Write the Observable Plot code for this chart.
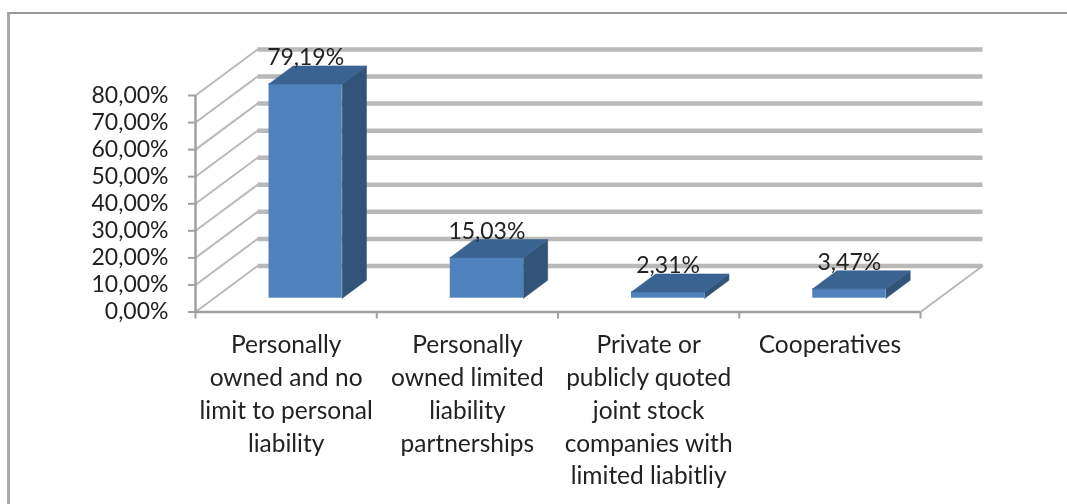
<!DOCTYPE html>
<html>
<head>
<meta charset="utf-8">
<script src="https://cdn.jsdelivr.net/npm/d3@7"></script>
<script src="https://cdn.jsdelivr.net/npm/@observablehq/plot@0.6"></script>
<style>
html, body { margin: 0; padding: 0; background: #fff; overflow: hidden; }
#frame { position: absolute; left: 7px; top: 12px; width: 1060px; height: 492px; box-sizing: border-box; border-left: 3px solid #a9a9a9; border-top: 2px solid #999; }
#chart { position: absolute; left: 0; top: 0; }
#chart svg { display: block; filter: blur(0.65px); }
</style>
</head>
<body>
<div id="frame"></div>
<div id="chart"></div>
<script>
const categories = [
  "Personally\nowned and no\nlimit to personal\nliability",
  "Personally\nowned limited\nliability\npartnerships",
  "Private or\npublicly quoted\njoint stock\ncompanies with\nlimited liabitliy",
  "Cooperatives"
];
const values = [79.19, 15.03, 2.31, 3.47];
const valueLabels = ["79,19%", "15,03%", "2,31%", "3,47%"];
const yTicks = [0, 10, 20, 30, 40, 50, 60, 70, 80];
const yTickLabels = ["0,00%", "10,00%", "20,00%", "30,00%", "40,00%", "50,00%", "60,00%", "70,00%", "80,00%"];
const categoryEdges = [0, 1, 2, 3, 4];

// oblique projection of the 3D box, expressed in data units
const depthX = 0.342;   // categories per unit of depth
const depthY = 17;      // percentage points per unit of depth
const barStart = 0.303, barEnd = 0.707;
const depthStart = 0.3, depthEnd = 0.69;
const px = (c, d) => c + d * depthX;
const py = (v, d) => v + d * depthY;

const slants = yTicks.flatMap(v => [
  {v, x: px(0, 0), y: py(v, 0)},
  {v, x: px(0, 1), y: py(v, 1)}
]);
const floorEdge = [
  {x: px(4, 0), y: py(0, 0)},
  {x: px(4, 1), y: py(0, 1)}
];
const backLines = yTicks.map(v => ({x1: px(0, 1), x2: px(4, 1), y: py(v, 1)}));

const fronts = values.map((v, i) => ({
  x1: px(i + barStart, depthStart), x2: px(i + barEnd, depthStart),
  y1: py(0, depthStart), y2: py(v, depthStart)
}));
const poly = (i, pts) => pts.map(([c, v, d]) => ({i, x: px(i + c, d), y: py(v, d)}));
const sides = values.flatMap((v, i) => poly(i, [
  [barEnd, 0, depthStart], [barEnd, v, depthStart], [barEnd, v, depthEnd], [barEnd, 0, depthEnd], [barEnd, 0, depthStart]
]));
const tops = values.flatMap((v, i) => poly(i, [
  [barStart, v, depthStart], [barEnd, v, depthStart], [barEnd, v, depthEnd], [barStart, v, depthEnd], [barStart, v, depthStart]
]));
const barLabels = values.map((v, i) => ({
  x: px(i + (barStart + barEnd) / 2, depthStart), y: py(v, depthEnd), label: valueLabels[i]
}));
const catLabels = categories.map((label, i) => ({x: i + 0.5, y: 0, label}));

const gridColor = "#b9b9b9";
const axisColor = "#a0a0a0";
const textColor = "#222222";
const fontSize = 23;
const categoryFontSize = 24.5;

const chart = Plot.plot({
  width: 1067,
  height: 504,
  marginLeft: 195,
  marginRight: 147,
  marginTop: 95,
  marginBottom: 192.5,
  style: {background: "transparent", fontFamily: "Lato", fontSize: fontSize + "px", color: textColor, overflow: "visible"},
  x: {domain: [0, 4], axis: null},
  y: {domain: [0, 80], axis: null},
  marks: [
    Plot.link(backLines, {x1: "x1", x2: "x2", y1: "y", y2: "y", stroke: gridColor, strokeWidth: 4.5}),
    Plot.line(slants, {x: "x", y: "y", z: "v", stroke: gridColor, strokeWidth: 2}),
    Plot.line(floorEdge, {x: "x", y: "y", stroke: gridColor, strokeWidth: 2}),
    Plot.ruleX([0], {y1: 0, y2: 80, stroke: axisColor, strokeWidth: 2.5}),
    Plot.ruleY([0], {x1: 0, x2: 4, stroke: axisColor, strokeWidth: 2.5}),
    Plot.axisY({ticks: yTicks, tickFormat: (d) => yTickLabels[yTicks.indexOf(d)], tickSize: 7, tickPadding: 20, stroke: axisColor, strokeWidth: 2, fontSize, fill: textColor, label: null, anchor: "left"}),
    Plot.axisX({ticks: categoryEdges, tickFormat: () => "", tickSize: 7, stroke: axisColor, strokeWidth: 2, label: null, anchor: "bottom"}),
    Plot.rect(fronts, {x1: "x1", x2: "x2", y1: "y1", y2: "y2", fill: "#4f81bd"}),
    Plot.line(sides, {x: "x", y: "y", z: "i", fill: "#335479", stroke: "#335479", strokeWidth: 0.6}),
    Plot.line(tops, {x: "x", y: "y", z: "i", fill: "#3b6391", stroke: "#3b6391", strokeWidth: 0.6}),
    Plot.text(barLabels, {x: "x", y: "y", text: "label", dy: -8, fontSize, fill: textColor}),
    Plot.text(catLabels, {x: "x", y: "y", text: "label", lineAnchor: "top", lineHeight: 32.8 / categoryFontSize, dy: 18, fontSize: categoryFontSize, fill: textColor})
  ]
});
document.getElementById("chart").appendChild(chart);
</script>
</body>
</html>
